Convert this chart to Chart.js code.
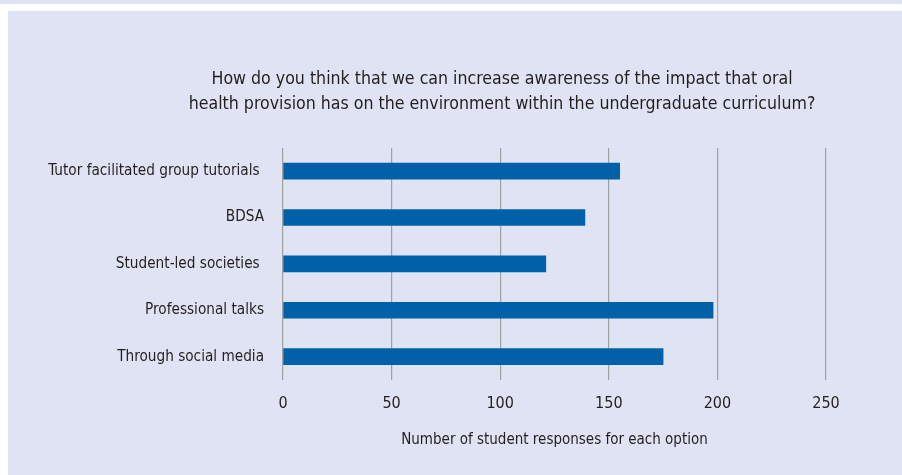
<!DOCTYPE html>
<html>
<head>
<meta charset="utf-8">
<script src="https://cdn.jsdelivr.net/npm/chart.js@4"></script>
<style>
  html, body { margin: 0; padding: 0; background: #ffffff; }
  body { width: 902px; height: 475px; position: relative; overflow: hidden; }
  .topband { position: absolute; left: 0; top: 0; width: 902px; height: 4px; background: #dfe3f3; }
  .panel { position: absolute; left: 8px; top: 11px; width: 894px; height: 464px; background: #dfe3f3; }
</style>
</head>
<body>
<div class="topband"></div>
<div class="panel"><canvas id="awarenessChart"></canvas></div>
<script>
const options = [
    'Tutor facilitated group tutorials ',
    'BDSA',
    'Student-led societies ',
    'Professional talks',
    'Through social media'
];
const responses = [155, 139, 121, 198, 175];
const xTicks = [0, 50, 100, 150, 200, 250];

const fontFamily = "'Liberation Sans Narrow', 'DejaVu Sans Condensed', 'Roboto Condensed', 'Open Sans', sans-serif";
const textColor = '#231f20';

const ctxAwareness = document.getElementById('awarenessChart');

// the question sits a little left of the plot centre, so narrow the title box after layout
const titleSpan = {
    id: 'titleSpan',
    afterLayout(chart) {
        if (chart.titleBlock) {
            chart.titleBlock.left = 170;
            chart.titleBlock.right = 818;
            chart.titleBlock.width = 648;
        }
    }
};

const dataAwareness = {
    labels: options,
    datasets: [{
        label: 'Responses',
        backgroundColor: '#0061a9',
        borderWidth: 0,
        barThickness: 16,
        data: responses
    }]
};

const configAwareness = {
    type: 'bar',
    data: dataAwareness,
    plugins: [titleSpan],
    options: {
        indexAxis: 'y',
        responsive: false,
        animation: false,
        layout: {
            padding: { left: 0, right: 76, top: 56, bottom: 26 }
        },
        plugins: {
            legend: { display: false },
            tooltip: { enabled: false },
            title: {
                display: true,
                text: [
                    'How do you think that we can increase awareness of the impact that oral',
                    'health provision has on the environment within the undergraduate curriculum?'
                ],
                color: textColor,
                font: { family: fontFamily, size: 17.6, weight: 'normal', lineHeight: 1.42 },
                padding: { top: 0, bottom: 31 }
            }
        },
        scales: {
            x: {
                min: 0,
                max: 250,
                afterBuildTicks: (scale) => {
                    scale.ticks = xTicks.map(v => ({ value: v }));
                },
                grid: {
                    color: '#a0a0a0',
                    lineWidth: 1.2,
                    drawTicks: false
                },
                border: { display: false },
                ticks: {
                    color: textColor,
                    padding: 14,
                    font: { family: fontFamily, size: 16 }
                },
                title: {
                    display: true,
                    text: 'Number of student responses for each option',
                    color: textColor,
                    font: { family: fontFamily, size: 15 },
                    padding: { top: 4, bottom: 0 }
                }
            },
            y: {
                grid: { display: false, drawTicks: false },
                border: { display: false },
                afterFit: (scale) => {
                    scale.width = 275;
                },
                ticks: {
                    color: textColor,
                    padding: 19,
                    font: { family: fontFamily, size: 15.2 }
                }
            }
        }
    }
};

ctxAwareness.width = 894;
ctxAwareness.height = 464;

const barChartAwareness = new Chart(
    ctxAwareness,
    configAwareness
);
</script>
</body>
</html>
